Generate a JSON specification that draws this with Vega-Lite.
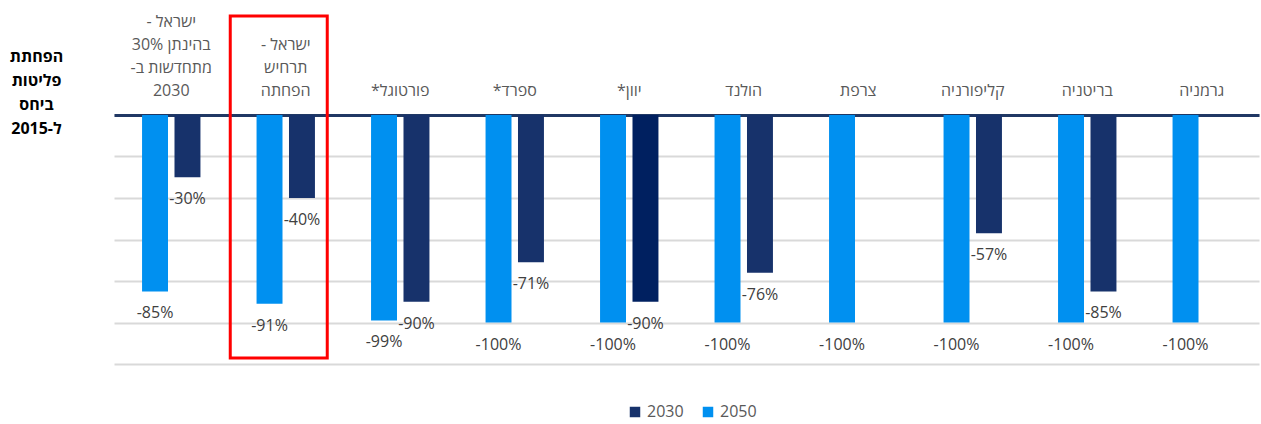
{
  "$schema": "https://vega.github.io/schema/vega-lite/v6.json",
  "autosize": {"type": "none"},
  "width": 1145,
  "height": 249,
  "padding": {"left": 114, "top": 115, "right": 2, "bottom": 60},
  "background": "white",
  "config": {
    "view": {"stroke": null},
    "font": "Open Sans, DejaVu Sans, sans-serif"
  },
  "datasets": {
    "bars": [
      {"country": "- ישראל|30% בהינתן|-מתחדשות ב|2030", "year": "2050", "value": -85},
      {"country": "- ישראל|30% בהינתן|-מתחדשות ב|2030", "year": "2030", "value": -30},
      {"country": "\u200b|- ישראל|תרחיש|הפחתה", "year": "2050", "value": -91},
      {"country": "\u200b|- ישראל|תרחיש|הפחתה", "year": "2030", "value": -40},
      {"country": "\u200b|\u200b|\u200b|*פורטוגל", "year": "2050", "value": -99},
      {"country": "\u200b|\u200b|\u200b|*פורטוגל", "year": "2030", "value": -90},
      {"country": "\u200b|\u200b|\u200b|*ספרד", "year": "2050", "value": -100},
      {"country": "\u200b|\u200b|\u200b|*ספרד", "year": "2030", "value": -71},
      {"country": "\u200b|\u200b|\u200b|*יוון", "year": "2050", "value": -100},
      {"country": "\u200b|\u200b|\u200b|*יוון", "year": "2030", "value": -90},
      {"country": "\u200b|\u200b|\u200b|הולנד", "year": "2050", "value": -100},
      {"country": "\u200b|\u200b|\u200b|הולנד", "year": "2030", "value": -76},
      {"country": "\u200b|\u200b|\u200b|צרפת", "year": "2050", "value": -100},
      {"country": "\u200b|\u200b|\u200b|קליפורניה", "year": "2050", "value": -100},
      {"country": "\u200b|\u200b|\u200b|קליפורניה", "year": "2030", "value": -57},
      {"country": "\u200b|\u200b|\u200b|בריטניה", "year": "2050", "value": -100},
      {"country": "\u200b|\u200b|\u200b|בריטניה", "year": "2030", "value": -85},
      {"country": "\u200b|\u200b|\u200b|גרמניה", "year": "2050", "value": -100}
    ],
    "highlight": [
      {"country": "\u200b|- ישראל|תרחיש|הפחתה", "top": 47.7, "bottom": -117.1}
    ]
  },
  "encoding": {
    "x": {
      "field": "country",
      "type": "nominal",
      "sort": null,
      "scale": {"paddingInner": 0.49, "paddingOuter": 0.245},
      "axis": {
        "orient": "top",
        "title": null,
        "labelAngle": 0,
        "ticks": false,
        "labelPadding": 102,
        "labelBaseline": "top",
        "labelFontSize": 16,
        "labelColor": "#595959",
        "labelLineHeight": 23,
        "labelLimit": 0,
        "labelExpr": "split(datum.value, '|')",
        "domainColor": "#203864",
        "domainWidth": 3,
        "grid": false
      }
    }
  },
  "layer": [
    {
      "data": {"name": "bars"},
      "mark": {"type": "bar"},
      "encoding": {
        "xOffset": {
          "field": "year",
          "type": "nominal",
          "sort": ["2050", "2030"],
          "scale": {"paddingInner": 0.2, "paddingOuter": 0}
        },
        "y": {
          "field": "value",
          "type": "quantitative",
          "scale": {"domain": [-120, 0], "nice": false},
          "axis": {
            "values": [0, -20, -40, -60, -80, -100, -120],
            "labels": false,
            "ticks": false,
            "domain": false,
            "gridColor": "#d9d9d9",
            "gridWidth": 2,
            "title": ["הפחתת", "פליטות", "ביחס", "2015-ל"],
            "titleAngle": 0,
            "titleAlign": "center",
            "titleBaseline": "top",
            "titleX": -78,
            "titleY": -67,
            "titleFontSize": 16,
            "titleFontWeight": "bold",
            "titleColor": "#000000",
            "titleLineHeight": 24
          }
        },
        "color": {
          "condition": {"test": "indexof(datum.country, 'יוון') >= 0 && datum.year === '2030'", "value": "#002060"},
          "field": "year",
          "type": "nominal",
          "scale": {"domain": ["2030", "2050"], "range": ["#17326b", "#0090f0"]},
          "legend": {
            "title": null,
            "orient": "none",
            "direction": "horizontal",
            "legendX": 513,
            "legendY": 289,
            "symbolType": "square",
            "symbolSize": 110,
            "symbolStrokeWidth": 0,
            "labelFontSize": 16,
            "labelColor": "#595959",
            "labelOffset": 4,
            "columnPadding": 16
          }
        }
      }
    },
    {
      "data": {"name": "bars"},
      "transform": [{"calculate": "datum.value + '%'", "as": "label"}],
      "mark": {"type": "text", "baseline": "middle", "align": "center", "dy": 22, "fontSize": 16, "color": "#404040"},
      "encoding": {
        "xOffset": {"field": "year", "type": "nominal", "sort": ["2050", "2030"]},
        "y": {"field": "value", "type": "quantitative"},
        "text": {"field": "label"}
      }
    },
    {
      "data": {"name": "highlight"},
      "mark": {"type": "bar", "width": 97, "xOffset": -7, "fill": "transparent", "stroke": "#ff0000", "strokeWidth": 3, "clip": false},
      "encoding": {
        "y": {"field": "top", "type": "quantitative"},
        "y2": {"field": "bottom"}
      }
    }
  ],
  "resolve": {"scale": {"xOffset": "shared"}}
}
